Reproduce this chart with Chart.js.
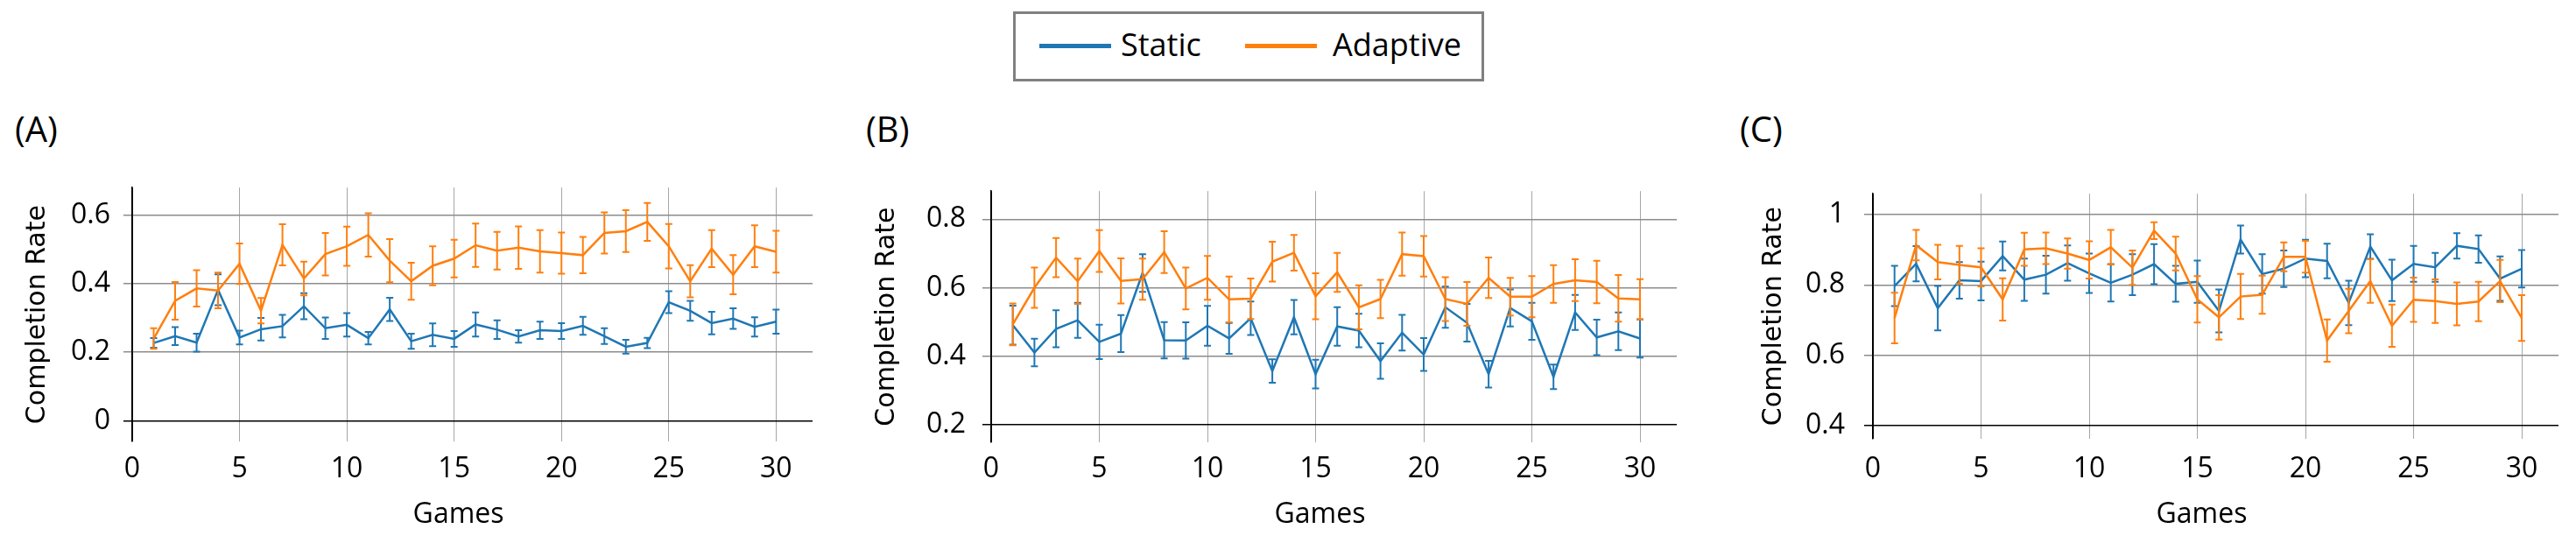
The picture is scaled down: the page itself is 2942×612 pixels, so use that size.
<!DOCTYPE html>
<html>
<head>
<meta charset="utf-8">
<script src="https://cdn.jsdelivr.net/npm/chart.js@4.4.1/dist/chart.umd.min.js"></script>
<style>
  html, body { margin: 0; padding: 0; background: #fff; width: 2942px; height: 612px; overflow: hidden; font-family: "Open Sans", sans-serif; }
  .panel { position: absolute; top: 180px; height: 432px; }
  .tag { position: absolute; top: 127px; font-size: 40px; line-height: 1; color: #000; }
  #legend { position: absolute; left: 1157px; top: 13px; width: 538px; height: 80px; border: 3px solid #808080; box-sizing: border-box; }
  #legend .swatch { position: absolute; top: 34px; width: 82px; height: 5px; }
  #legend .label { position: absolute; top: 17px; font-size: 36px; line-height: 1; color: #000; }
</style>
</head>
<body>
<div id="legend">
  <div class="swatch" style="left:27px;background:#1f77b4"></div>
  <div class="label" style="left:120px">Static</div>
  <div class="swatch" style="left:262px;background:#ff7f0e"></div>
  <div class="label" style="left:362px">Adaptive</div>
</div>
<div class="tag" style="left:17px">(A)</div>
<div class="tag" style="left:989px">(B)</div>
<div class="tag" style="left:1987px">(C)</div>
<div class="panel" style="left:0px;width:940px"><canvas id="chartA" width="940" height="432"></canvas></div>
<div class="panel" style="left:960px;width:965px"><canvas id="chartB" width="965" height="432"></canvas></div>
<div class="panel" style="left:1960px;width:982px"><canvas id="chartC" width="982" height="432"></canvas></div>
<script>
// ---- data ----
const games = [1,2,3,4,5,6,7,8,9,10,11,12,13,14,15,16,17,18,19,20,21,22,23,24,25,26,27,28,29,30];
const xTicks = [0, 5, 10, 15, 20, 25, 30];
const yTicksA = [0, 0.2, 0.4, 0.6];
const yTicksB = [0.2, 0.4, 0.6, 0.8];
const yTicksC = [0.4, 0.6, 0.8, 1];

// (A)
const staticA = [0.227,0.247,0.228,0.382,0.243,0.267,0.276,0.334,0.270,0.280,0.241,0.325,0.232,0.251,0.239,
                 0.281,0.266,0.246,0.264,0.262,0.277,0.247,0.216,0.227,0.346,0.321,0.285,0.298,0.274,0.289];
const staticAErr = [0.014,0.026,0.026,0.045,0.020,0.033,0.033,0.038,0.031,0.034,0.018,0.034,0.022,0.033,0.023,
                    0.035,0.027,0.018,0.025,0.023,0.026,0.023,0.020,0.015,0.032,0.029,0.033,0.030,0.028,0.035];
const adaptiveA = [0.240,0.350,0.386,0.380,0.458,0.321,0.513,0.415,0.486,0.509,0.542,0.467,0.407,0.452,0.473,
                   0.512,0.496,0.505,0.494,0.489,0.483,0.548,0.553,0.580,0.509,0.407,0.502,0.426,0.509,0.493];
const adaptiveAErr = [0.030,0.055,0.053,0.052,0.059,0.037,0.060,0.049,0.062,0.057,0.063,0.063,0.054,0.057,0.055,
                      0.063,0.055,0.062,0.062,0.060,0.053,0.060,0.061,0.055,0.065,0.047,0.054,0.057,0.061,0.061];

// (B)
const staticB = [0.491,0.411,0.480,0.505,0.442,0.466,0.643,0.447,0.446,0.489,0.452,0.511,0.357,0.514,0.348,
                 0.487,0.475,0.386,0.469,0.405,0.543,0.498,0.348,0.541,0.502,0.340,0.528,0.455,0.473,0.452];
const staticBErr = [0.057,0.040,0.054,0.051,0.050,0.054,0.055,0.053,0.053,0.058,0.045,0.049,0.034,0.050,0.042,
                    0.056,0.049,0.052,0.052,0.048,0.060,0.055,0.039,0.054,0.054,0.036,0.051,0.052,0.055,0.056];
const adaptiveB = [0.493,0.600,0.688,0.619,0.707,0.620,0.625,0.704,0.598,0.629,0.566,0.568,0.676,0.702,0.575,
                   0.645,0.543,0.567,0.698,0.692,0.567,0.553,0.629,0.574,0.574,0.611,0.622,0.617,0.569,0.566];
const adaptiveBErr = [0.061,0.059,0.057,0.066,0.061,0.066,0.060,0.061,0.061,0.064,0.067,0.059,0.058,0.052,0.067,
                      0.057,0.064,0.056,0.063,0.059,0.064,0.064,0.059,0.055,0.060,0.055,0.061,0.062,0.068,0.059];

// (C)
const staticC = [0.797,0.860,0.734,0.813,0.811,0.882,0.815,0.829,0.862,0.833,0.806,0.829,0.859,0.803,0.809,
                 0.726,0.929,0.831,0.846,0.875,0.868,0.749,0.909,0.813,0.860,0.850,0.911,0.902,0.818,0.846];
const staticCErr = [0.057,0.050,0.063,0.052,0.055,0.041,0.060,0.054,0.050,0.056,0.053,0.058,0.057,0.051,0.060,
                    0.061,0.040,0.056,0.052,0.053,0.049,0.063,0.035,0.059,0.051,0.041,0.036,0.039,0.063,0.053];
const adaptiveC = [0.706,0.913,0.865,0.857,0.850,0.759,0.901,0.904,0.889,0.871,0.907,0.849,0.954,0.889,0.759,
                   0.708,0.767,0.772,0.880,0.880,0.642,0.726,0.811,0.684,0.758,0.754,0.746,0.753,0.811,0.706];
const adaptiveCErr = [0.072,0.043,0.049,0.054,0.054,0.060,0.047,0.045,0.043,0.053,0.049,0.049,0.024,0.048,0.066,
                      0.063,0.064,0.054,0.041,0.045,0.060,0.063,0.062,0.060,0.063,0.062,0.061,0.056,0.060,0.065];

const BLUE = '#1f77b4';
const ORANGE = '#ff7f0e';

// layout of each subplot (pixels inside its canvas)
const panels = [
  { canvas: 'chartA', yTicks: yTicksA, yMin: -0.06, yMax: 0.68, st: staticA, stErr: staticAErr, ad: adaptiveA, adErr: adaptiveAErr,
    yWidth: 151, padTop: 27, padRight: 12, xHeight: 108, titlePad: 25, labelPad: 15, xLabelPad: 13 },
  { canvas: 'chartB', yTicks: yTicksB, yMin: 0.149, yMax: 0.882, st: staticB, stErr: staticBErr, ad: adaptiveB, adErr: adaptiveBErr,
    yWidth: 172, padTop: 27, padRight: 10, xHeight: 107, titlePad: 35, labelPad: 19, xLabelPad: 12 },
  { canvas: 'chartC', yTicks: yTicksC, yMin: 0.363, yMax: 1.059, st: staticC, stErr: staticCErr, ad: adaptiveC, adErr: adaptiveCErr,
    yWidth: 179, padTop: 35, padRight: 20, xHeight: 111, titlePad: 48, labelPad: 22, xLabelPad: 16 }
];

const errorBars = {
  id: 'errorBars',
  afterDatasetDraw(chart, args) {
    const ds = chart.data.datasets[args.index];
    if (!ds.errors) return;
    const { ctx, chartArea } = chart;
    const xs = chart.scales.x, ys = chart.scales.y;
    ctx.save();
    ctx.beginPath();
    ctx.rect(chartArea.left, chartArea.top, chartArea.width, chartArea.height);
    ctx.clip();
    ctx.strokeStyle = ds.borderColor;
    ctx.lineWidth = 2;
    ds.data.forEach((p, i) => {
      const px = xs.getPixelForValue(p.x);
      const hi = ys.getPixelForValue(p.y + ds.errors[i]);
      const lo = ys.getPixelForValue(p.y - ds.errors[i]);
      ctx.beginPath();
      ctx.moveTo(px, hi); ctx.lineTo(px, lo);
      ctx.moveTo(px - 4, hi); ctx.lineTo(px + 4, hi);
      ctx.moveTo(px - 4, lo); ctx.lineTo(px + 4, lo);
      ctx.stroke();
    });
    ctx.restore();
  }
};

// x title sits a little left of the plot centre in the original
const gamesTitle = {
  id: 'gamesTitle',
  afterDraw(chart) {
    const { ctx } = chart;
    ctx.save();
    ctx.font = '32px "Open Sans"';
    ctx.fillStyle = '#000';
    ctx.textAlign = 'center';
    ctx.textBaseline = 'middle';
    ctx.fillText('Games', chart.scales.x.getPixelForValue(15.2), 408);
    ctx.restore();
  }
};

function makeChart(p) {
  const toPoints = vals => games.map((g, i) => ({ x: g, y: vals[i] }));
  const base = p.yTicks[0];
  new Chart(document.getElementById(p.canvas), {
    type: 'line',
    data: {
      datasets: [
        { label: 'Static', data: toPoints(p.st), errors: p.stErr, borderColor: BLUE, borderWidth: 2.5, pointRadius: 0, tension: 0, order: 2 },
        { label: 'Adaptive', data: toPoints(p.ad), errors: p.adErr, borderColor: ORANGE, borderWidth: 2.5, pointRadius: 0, tension: 0, order: 1 }
      ]
    },
    options: {
      responsive: false,
      animation: false,
      layout: { padding: { top: p.padTop, right: p.padRight, left: 0, bottom: 0 } },
      plugins: { legend: { display: false }, tooltip: { enabled: false } },
      scales: {
        x: {
          type: 'linear',
          min: 0,
          max: 31.7,
          afterBuildTicks: s => { s.ticks = xTicks.map(v => ({ value: v })); },
          afterFit: s => { s.height = p.xHeight; },
          grid: { color: c => (c.tick && c.tick.value === 0 ? '#000' : '#a6a6a6'), lineWidth: 1, drawTicks: false },
          border: { display: false },
          ticks: { padding: p.xLabelPad, color: '#000', font: { family: 'Open Sans', size: 32 }, maxRotation: 0 }
        },
        y: {
          min: p.yMin,
          max: p.yMax,
          afterBuildTicks: s => { s.ticks = p.yTicks.map(v => ({ value: v })); },
          afterFit: s => { s.width = p.yWidth; },
          grid: { color: c => (c.tick && c.tick.value === base ? '#000' : '#8c8c8c'), lineWidth: 1.5, tickLength: 10 },
          border: { display: true, color: '#000', width: 1.5 },
          ticks: { padding: p.labelPad, color: '#000', font: { family: 'Open Sans', size: 32 },
                   callback: v => String(Number(v.toFixed(1))) },
          title: { display: true, text: 'Completion Rate', color: '#000',
                   font: { family: 'DejaVu Sans', size: 30 }, padding: { top: p.titlePad, bottom: 0 } }
        }
      }
    },
    plugins: [errorBars, gamesTitle]
  });
}

panels.forEach(makeChart);
</script>
</body>
</html>
